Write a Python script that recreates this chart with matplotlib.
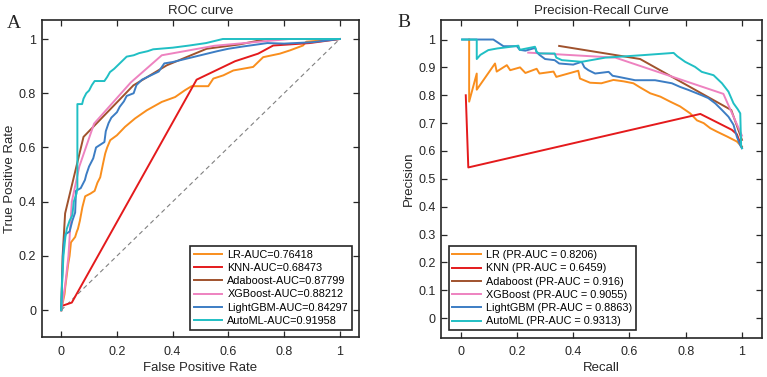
import matplotlib
matplotlib.use("Agg")
import matplotlib.pyplot as plt

plt.rcParams['font.family'] = ['Liberation Sans', 'DejaVu Sans']

models = ["LR", "KNN", "Adaboost", "XGBoost", "LightGBM", "AutoML"]
roc_auc = ["0.76418", "0.68473", "0.87799", "0.88212", "0.84297", "0.91958"]
pr_auc = ["0.8206", "0.6459", "0.916", "0.9055", "0.8863", "0.9313"]
colors = ["#F98E1D", "#E41A1C", "#A0522D", "#EE82C0", "#3C7DC4", "#20BFC4"]

# ROC curves (FPR, TPR)
roc_lr_x = [0, 0.006, 0.012, 0.015, 0.02, 0.025, 0.03, 0.035, 0.05, 0.056, 0.06, 0.067, 0.076, 0.086, 0.105,
            0.12, 0.13, 0.14, 0.15, 0.158, 0.165, 0.176, 0.2, 0.229, 0.265, 0.307, 0.361, 0.409, 0.444,
            0.468, 0.528, 0.546, 0.582, 0.618, 0.689, 0.725, 0.785, 0.821, 0.868, 0.88, 1.0]
roc_lr_y = [0, 0.03, 0.06, 0.09, 0.13, 0.17, 0.2, 0.25, 0.27, 0.29, 0.3, 0.33, 0.38, 0.42, 0.43,
            0.44, 0.47, 0.49, 0.54, 0.578, 0.6, 0.627, 0.645, 0.676, 0.707, 0.737, 0.768, 0.786, 0.811,
            0.826, 0.826, 0.854, 0.866, 0.884, 0.897, 0.933, 0.946, 0.958, 0.976, 0.99, 1.0]
roc_knn_x = [0, 0, 0.038, 0.486, 0.624, 0.707, 0.761, 0.892, 1.0]
roc_knn_y = [0, 0.015, 0.028, 0.85, 0.918, 0.946, 0.976, 0.985, 1.0]
roc_ada_x = [0, 0.005, 0.014, 0.08, 0.259, 0.379, 0.522, 0.64, 0.737, 1.0]
roc_ada_y = [0, 0.2, 0.357, 0.639, 0.829, 0.903, 0.964, 0.98, 1.0, 1.0]
roc_xgb_x = [0, 0.014, 0.026, 0.038, 0.065, 0.118, 0.25, 0.361, 0.55, 0.82, 1.0]
roc_xgb_y = [0, 0.09, 0.2, 0.4, 0.53, 0.688, 0.84, 0.94, 0.975, 1.0, 1.0]
roc_lgb_x = [0, 0.003, 0.006, 0.01, 0.015, 0.03, 0.04, 0.05, 0.053, 0.07, 0.085, 0.09, 0.1, 0.115, 0.125,
             0.14, 0.155, 0.16, 0.17, 0.18, 0.2, 0.21, 0.225, 0.235, 0.26, 0.27, 0.29, 0.31, 0.35, 0.37,
             0.4, 0.44, 0.48, 0.52, 0.56, 0.6, 0.65, 0.74, 0.8, 0.9, 1.0]
roc_lgb_y = [0, 0.1, 0.2, 0.25, 0.28, 0.29, 0.33, 0.36, 0.44, 0.45, 0.48, 0.5, 0.53, 0.56, 0.6,
             0.61, 0.62, 0.66, 0.69, 0.71, 0.73, 0.75, 0.77, 0.79, 0.8, 0.83, 0.85, 0.86, 0.88, 0.91,
             0.915, 0.925, 0.935, 0.945, 0.955, 0.964, 0.972, 0.985, 0.983, 0.988, 1.0]
roc_aml_x = [0, 0.003, 0.008, 0.015, 0.02, 0.03, 0.04, 0.045, 0.055, 0.058, 0.058, 0.075, 0.08, 0.09, 0.1,
             0.11, 0.12, 0.155, 0.165, 0.175, 0.19, 0.205, 0.22, 0.235, 0.26, 0.28, 0.31, 0.33, 0.4,
             0.46, 0.52, 0.58, 1.0]
roc_aml_y = [0, 0.1, 0.2, 0.27, 0.3, 0.33, 0.35, 0.4, 0.43, 0.45, 0.76, 0.76, 0.78, 0.8, 0.81,
             0.83, 0.845, 0.845, 0.86, 0.878, 0.89, 0.905, 0.92, 0.935, 0.94, 0.948, 0.955, 0.962, 0.968,
             0.976, 0.985, 1.0, 1.0]

# PR curves (Recall, Precision)
pr_lr_x = [0.03, 0.03, 0.057, 0.057, 0.122, 0.128, 0.164, 0.176, 0.211, 0.23, 0.27, 0.28, 0.33, 0.34,
           0.418, 0.424, 0.46, 0.5, 0.543, 0.579, 0.614, 0.638, 0.674, 0.71, 0.745, 0.78, 0.816, 0.84,
           0.864, 0.887, 0.91, 0.947, 0.982, 1.0]
pr_lr_y = [1.0, 0.777, 0.878, 0.82, 0.914, 0.885, 0.908, 0.89, 0.9, 0.88, 0.895, 0.878, 0.885, 0.866,
           0.888, 0.86, 0.845, 0.843, 0.855, 0.85, 0.843, 0.828, 0.807, 0.795, 0.777, 0.76, 0.735, 0.71,
           0.7, 0.682, 0.67, 0.652, 0.634, 0.615]
pr_knn_x = [0.018, 0.027, 0.852, 0.917, 0.964, 0.982, 1.0]
pr_knn_y = [0.8, 0.541, 0.733, 0.7, 0.676, 0.66, 0.612]
pr_ada_x = [0.35, 0.638, 0.962, 1.0]
pr_ada_y = [0.977, 0.93, 0.747, 0.64]
pr_xgb_x = [0.24, 0.55, 0.934, 1.0]
pr_xgb_y = [0.953, 0.935, 0.805, 0.655]
pr_lgb_x = [0.005, 0.116, 0.152, 0.2, 0.21, 0.23, 0.265, 0.27, 0.28, 0.3, 0.334, 0.35, 0.4, 0.43, 0.44,
            0.454, 0.478, 0.526, 0.54, 0.561, 0.62, 0.691, 0.751, 0.78, 0.81, 0.857, 0.88, 0.905, 0.929,
            0.952, 0.97, 0.982, 0.994, 1.0]
pr_lgb_y = [1.0, 1.0, 0.976, 0.976, 0.963, 0.96, 0.97, 0.955, 0.945, 0.93, 0.926, 0.914, 0.91, 0.92, 0.9,
            0.89, 0.878, 0.884, 0.87, 0.866, 0.854, 0.854, 0.843, 0.83, 0.819, 0.8, 0.79, 0.771, 0.747,
            0.723, 0.694, 0.651, 0.62, 0.61]
pr_aml_x = [0.005, 0.057, 0.057, 0.07, 0.098, 0.13, 0.17, 0.205, 0.21, 0.264, 0.27, 0.28, 0.334, 0.34,
            0.36, 0.43, 0.514, 0.648, 0.757, 0.77, 0.798, 0.833, 0.857, 0.899, 0.929, 0.952, 0.97, 0.985,
            0.994, 0.997, 1.0]
pr_aml_y = [1.0, 1.0, 0.93, 0.945, 0.962, 0.968, 0.973, 0.978, 0.963, 0.974, 0.955, 0.95, 0.95, 0.935,
            0.926, 0.92, 0.935, 0.944, 0.952, 0.94, 0.92, 0.902, 0.884, 0.872, 0.843, 0.813, 0.771, 0.75,
            0.735, 0.62, 0.61]

roc_curves = [(roc_lr_x, roc_lr_y), (roc_knn_x, roc_knn_y), (roc_ada_x, roc_ada_y),
              (roc_xgb_x, roc_xgb_y), (roc_lgb_x, roc_lgb_y), (roc_aml_x, roc_aml_y)]
pr_curves = [(pr_lr_x, pr_lr_y), (pr_knn_x, pr_knn_y), (pr_ada_x, pr_ada_y),
             (pr_xgb_x, pr_xgb_y), (pr_lgb_x, pr_lgb_y), (pr_aml_x, pr_aml_y)]

ticks01 = [0, 0.2, 0.4, 0.6, 0.8, 1]
ticks_pr = [0, 0.1, 0.2, 0.3, 0.4, 0.5, 0.6, 0.7, 0.8, 0.9, 1]

fig = plt.figure(figsize=(7.67, 3.77), dpi=100)
ax1 = fig.add_axes([0.0544, 0.1053, 0.414, 0.8416])
ax2 = fig.add_axes([0.575, 0.1042, 0.418, 0.8427])

def fmt(v):
    return "0" if v == 0 else ("1" if v == 1 else ("%g" % v))

def style(ax):
    for s in ax.spines.values():
        s.set_color("#262626")
        s.set_linewidth(1.2)
    ax.tick_params(direction="in", top=True, right=True, length=4, width=0.9,
                   colors="#262626", labelsize=9)
    ax.tick_params(axis="x", pad=6)
    ax.tick_params(axis="y", pad=4)

# ROC panel
ax1.plot([0, 1], [0, 1], linestyle=(0, (4, 3)), color="#808080", lw=0.8)
for (x, y), m, a, c in zip(roc_curves, models, roc_auc, colors):
    ax1.plot(x, y, color=c, lw=1.4, label=f"{m}-AUC={a}")
ax1.set_xlim(-0.07, 1.07)
ax1.set_ylim(-0.1, 1.07)
ax1.set_xticks(ticks01)
ax1.set_xticklabels([fmt(t) for t in ticks01])
ax1.set_yticks(ticks01)
ax1.set_yticklabels([fmt(t) for t in ticks01])
style(ax1)
ax1.set_title("ROC curve", fontsize=9.5, color="#262626", pad=4)
ax1.set_xlabel("False Positive Rate", fontsize=9.5, color="#262626", labelpad=3)
ax1.set_ylabel("True Positive Rate", fontsize=9.5, color="#262626", labelpad=2)
leg1 = ax1.legend(loc="lower right", fontsize=7.8, frameon=True, fancybox=False,
                  handlelength=2.6, labelspacing=0.3, borderpad=0.35, borderaxespad=0.7,
                  handletextpad=0.5)
leg1.get_frame().set_edgecolor("#262626")
leg1.get_frame().set_linewidth(1.2)
leg1.get_frame().set_alpha(1)

# PR panel
for (x, y), m, a, c in zip(pr_curves, models, pr_auc, colors):
    ax2.plot(x, y, color=c, lw=1.4, label=f"{m} (PR-AUC = {a})")
ax2.set_xlim(-0.07, 1.07)
ax2.set_ylim(-0.07, 1.07)
ax2.set_xticks(ticks01)
ax2.set_xticklabels([fmt(t) for t in ticks01])
ax2.set_yticks(ticks_pr)
ax2.set_yticklabels([fmt(t) for t in ticks_pr])
style(ax2)
ax2.set_title("Precision-Recall Curve", fontsize=9.5, color="#262626", pad=4)
ax2.set_xlabel("Recall", fontsize=9.5, color="#262626", labelpad=3)
ax2.set_ylabel("Precision", fontsize=9.5, color="#262626", labelpad=2)
leg2 = ax2.legend(loc="lower left", fontsize=7.8, frameon=True, fancybox=False,
                  handlelength=2.6, labelspacing=0.3, borderpad=0.35, borderaxespad=0.7,
                  handletextpad=0.5)
leg2.get_frame().set_edgecolor("#262626")
leg2.get_frame().set_linewidth(1.2)
leg2.get_frame().set_alpha(1)

fig.text(6.5 / 767, 1 - 28 / 377, "A", fontsize=14, family="Liberation Serif", color="#262626", va="baseline")
fig.text(397 / 767, 1 - 27 / 377, "B", fontsize=14, family="Liberation Serif", color="#262626", va="baseline")

fig.savefig("out.png", dpi=100)
